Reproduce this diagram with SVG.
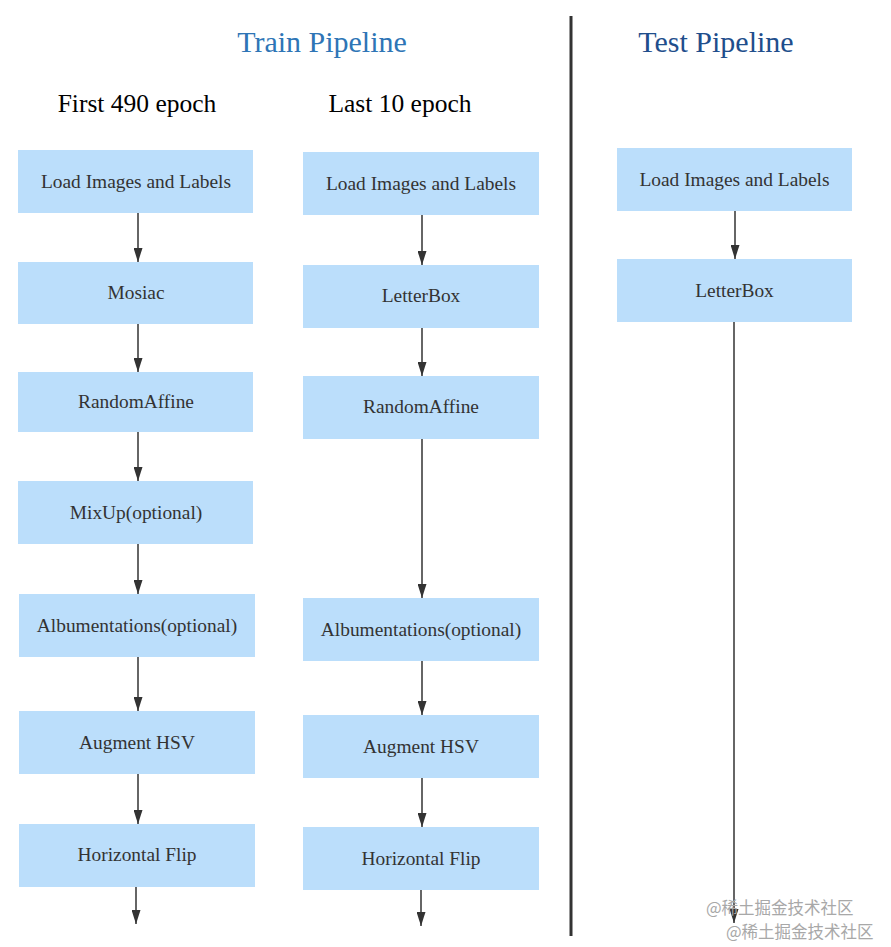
<svg xmlns="http://www.w3.org/2000/svg" width="891" height="947" viewBox="0 0 891 947">
<style>
.box{fill:#bbdefb;}
.lbl{font-family:"Liberation Serif","Times New Roman",serif;font-size:19.4px;fill:#333;text-anchor:middle;}
.title{font-family:"Liberation Serif","Times New Roman",serif;font-size:30px;text-anchor:middle;}
.sub{font-family:"Liberation Serif","Times New Roman",serif;font-size:25.5px;fill:#000;text-anchor:middle;}
.edge{stroke:#333;stroke-width:1.5;fill:none;marker-end:url(#arr);}
.wm{font-family:"Noto Sans CJK SC","DejaVu Sans",sans-serif;font-size:16.5px;fill:#a8a8a8;}
</style>
<defs>
<marker id="arr" viewBox="0 0 9 14" refX="4.5" refY="14" markerWidth="9" markerHeight="14" markerUnits="userSpaceOnUse" orient="0">
<path d="M0,0 L9,0 L4.5,14 z" fill="#333"/>
</marker>
</defs>
<rect width="891" height="947" fill="#fff"/>
<text class="title" x="322" y="52" fill="#2e75b6">Train Pipeline</text>
<text class="title" x="716" y="52" fill="#1f4e8c">Test Pipeline</text>
<text class="sub" x="137" y="112">First 490 epoch</text>
<text class="sub" x="400" y="112">Last 10 epoch</text>
<line x1="571" y1="16" x2="571" y2="936" stroke="#333" stroke-width="3"/>

<g id="connectors">
<line class="edge" x1="138" y1="213" x2="138" y2="262"/>
<line class="edge" x1="138" y1="324" x2="138" y2="372"/>
<line class="edge" x1="138" y1="432" x2="138" y2="481"/>
<line class="edge" x1="138" y1="544" x2="138" y2="594"/>
<line class="edge" x1="138" y1="657" x2="138" y2="711"/>
<line class="edge" x1="138" y1="774" x2="138" y2="824"/>
<line class="edge" x1="136" y1="887" x2="136" y2="924"/>
<line class="edge" x1="422" y1="215" x2="422" y2="265"/>
<line class="edge" x1="422" y1="328" x2="422" y2="376"/>
<line class="edge" x1="422" y1="439" x2="422" y2="598"/>
<line class="edge" x1="422" y1="661" x2="422" y2="715"/>
<line class="edge" x1="422" y1="778" x2="422" y2="827"/>
<line class="edge" x1="421" y1="890" x2="421" y2="926"/>
<line class="edge" x1="735" y1="211" x2="735" y2="259"/>
<line class="edge" x1="734" y1="322" x2="734" y2="923"/>
</g>

<g id="t1"><rect class="box" x="18" y="150" width="235" height="63"/><text class="lbl" x="136" y="188">Load Images and Labels</text></g>
<g id="t2"><rect class="box" x="18" y="262" width="235" height="62"/><text class="lbl" x="136" y="299">Mosiac</text></g>
<g id="t3"><rect class="box" x="18" y="372" width="235" height="60"/><text class="lbl" x="136" y="408">RandomAffine</text></g>
<g id="t4"><rect class="box" x="18" y="481" width="235" height="63"/><text class="lbl" x="136" y="519">MixUp(optional)</text></g>
<g id="t5"><rect class="box" x="19" y="594" width="236" height="63"/><text class="lbl" x="137" y="632">Albumentations(optional)</text></g>
<g id="t6"><rect class="box" x="19" y="711" width="236" height="63"/><text class="lbl" x="137" y="749">Augment HSV</text></g>
<g id="t7"><rect class="box" x="19" y="824" width="236" height="63"/><text class="lbl" x="137" y="861">Horizontal Flip</text></g>

<g id="m1"><rect class="box" x="303" y="152" width="236" height="63"/><text class="lbl" x="421" y="190">Load Images and Labels</text></g>
<g id="m2"><rect class="box" x="303" y="265" width="236" height="63"/><text class="lbl" x="421" y="302">LetterBox</text></g>
<g id="m3"><rect class="box" x="303" y="376" width="236" height="63"/><text class="lbl" x="421" y="413">RandomAffine</text></g>
<g id="m4"><rect class="box" x="303" y="598" width="236" height="63"/><text class="lbl" x="421" y="636">Albumentations(optional)</text></g>
<g id="m5"><rect class="box" x="303" y="715" width="236" height="63"/><text class="lbl" x="421" y="753">Augment HSV</text></g>
<g id="m6"><rect class="box" x="303" y="827" width="236" height="63"/><text class="lbl" x="421" y="865">Horizontal Flip</text></g>

<g id="s1"><rect class="box" x="617" y="148" width="235" height="63"/><text class="lbl" x="734.5" y="186">Load Images and Labels</text></g>
<g id="s2"><rect class="box" x="617" y="259" width="235" height="63"/><text class="lbl" x="734.5" y="297">LetterBox</text></g>

<text class="wm" x="706" y="914">@稀土掘金技术社区</text>
<text class="wm" x="726" y="938">@稀土掘金技术社区</text>
</svg>
